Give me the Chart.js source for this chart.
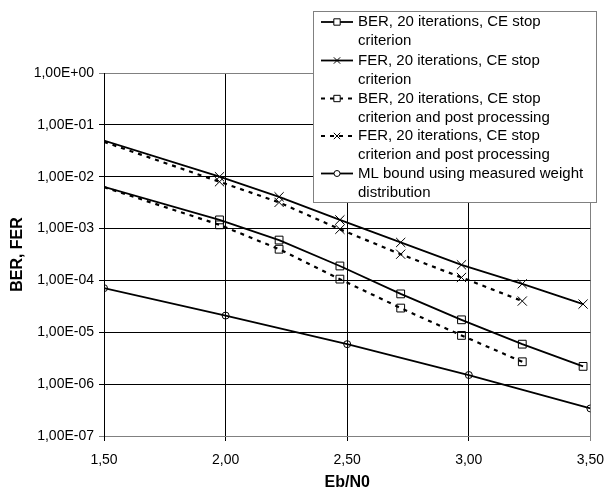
<!DOCTYPE html>
<html>
<head>
<meta charset="utf-8">
<script src="https://cdn.jsdelivr.net/npm/chart.js@4/dist/chart.umd.min.js"></script>
<style>
  html, body { margin: 0; padding: 0; background: #fff; }
  #wrap { width: 615px; height: 492px; }
</style>
</head>
<body>
<div id="wrap"><canvas id="ber_chart" width="615" height="492"></canvas></div>
<script>
// Eb/N0 positions
var xSim = [1.5, 1.975, 2.22, 2.47, 2.72, 2.97, 3.22, 3.47];
var xPost = [1.5, 1.975, 2.22, 2.47, 2.72, 2.97, 3.22];
var xBound = [1.5, 2.0, 2.5, 3.0, 3.5];

// error rates
var berCE = [6.4e-3, 1.47e-3, 6.0e-4, 1.9e-4, 5.5e-5, 1.74e-5, 5.9e-6, 2.2e-6];
var ferCE = [4.97e-2, 1.0e-2, 4.1e-3, 1.47e-3, 5.4e-4, 2.0e-4, 8.6e-5, 3.5e-5];
var berPost = [6.3e-3, 1.18e-3, 4.0e-4, 1.06e-4, 2.93e-5, 8.7e-6, 2.7e-6];
var ferPost = [4.7e-2, 8.0e-3, 3.2e-3, 9.7e-4, 3.2e-4, 1.14e-4, 4.0e-5];
var mlBound = [7.1e-5, 2.1e-5, 5.9e-6, 1.5e-6, 3.4e-7];

var seriesNames = [
  ["BER, 20 iterations, CE stop", "criterion"],
  ["FER, 20 iterations, CE stop", "criterion"],
  ["BER, 20 iterations, CE stop", "criterion and post processing"],
  ["FER, 20 iterations, CE stop", "criterion and post processing"],
  ["ML bound using measured weight", "distribution"]
];

var xTicks = [1.5, 2.0, 2.5, 3.0, 3.5];
var xTickLabels = ["1,50", "2,00", "2,50", "3,00", "3,50"];
var yTicks = [1e-7, 1e-6, 1e-5, 1e-4, 1e-3, 1e-2, 1e-1, 1];
var yTickLabels = ["1,00E-07", "1,00E-06", "1,00E-05", "1,00E-04", "1,00E-03", "1,00E-02", "1,00E-01", "1,00E+00"];

function toPoints(xs, ys) {
  var pts = [];
  for (var i = 0; i < ys.length; i++) {
    pts.push({x: xs[i], y: ys[i]});
  }
  return pts;
}

// first simulated point sits on the axis without a marker
function hideFirst(n, r) {
  var arr = [];
  for (var i = 0; i < n; i++) arr.push(i == 0 ? 0 : r);
  return arr;
}

function makeSet(name, pts, style, radius, dashed, radii) {
  return {
    label: name.join(" "),
    data: pts,
    borderColor: "#000",
    borderWidth: dashed ? 2.2 : 1.8,
    borderDash: dashed ? [4, 5] : [],
    pointStyle: style,
    pointRadius: radii,
    pointBorderWidth: 1,
    pointBorderColor: "#000",
    pointBackgroundColor: "rgba(255,255,255,0)",
    legendRadius: radius,
    tension: 0
  };
}

var legendBox = {
  id: "legendBox",
  afterDraw: function(chart) {
    var ctx = chart.ctx;
    ctx.save();
    ctx.fillStyle = "#fff";
    ctx.fillRect(313, 11, 283, 191);
    ctx.strokeStyle = "#808080";
    ctx.lineWidth = 1;
    ctx.strokeRect(313.5, 11.5, 283, 191);

    ctx.font = "15px 'Liberation Sans', Arial, sans-serif";
    ctx.textBaseline = "middle";
    ctx.textAlign = "left";

    var rowY = [22, 60.5, 98.5, 136, 173.5];
    chart.data.datasets.forEach(function(ds, i) {
      var y = rowY[i];
      ctx.strokeStyle = "#000";
      ctx.lineWidth = ds.borderWidth;
      ctx.setLineDash(ds.borderDash);
      ctx.beginPath();
      ctx.moveTo(321, y);
      ctx.lineTo(353, y);
      ctx.stroke();
      ctx.setLineDash([]);
      ctx.fillStyle = "#fff";
      ctx.lineWidth = 1;
      Chart.helpers.drawPoint(ctx, {pointStyle: ds.pointStyle, radius: ds.legendRadius, rotation: 0, borderWidth: 1}, 337, y);
      ctx.fillStyle = "#000";
      ctx.fillText(seriesNames[i][0], 358, y);
      ctx.fillText(seriesNames[i][1], 358, y + 19);
    });
    ctx.restore();
  }
};

function showChart() {
  var config = {
    type: "line",
    data: {
      datasets: [
        makeSet(seriesNames[0], toPoints(xSim, berCE), "rect", 4.5, false, hideFirst(xSim.length, 5.5)),
        makeSet(seriesNames[1], toPoints(xSim, ferCE), "crossRot", 4.5, false, hideFirst(xSim.length, 6.5)),
        makeSet(seriesNames[2], toPoints(xPost, berPost), "rect", 4.5, true, hideFirst(xPost.length, 5.5)),
        makeSet(seriesNames[3], toPoints(xPost, ferPost), "crossRot", 4.5, true, hideFirst(xPost.length, 6.5)),
        makeSet(seriesNames[4], toPoints(xBound, mlBound), "circle", 3, false, 3.5)
      ]
    },
    options: {
      responsive: false,
      animation: false,
      devicePixelRatio: 1,
      layout: { padding: { left: 0, right: 15, top: 73, bottom: 0 } },
      plugins: { legend: { display: false }, tooltip: { enabled: false } },
      scales: {
        x: {
          type: "linear",
          min: 1.5,
          max: 3.5,
          afterBuildTicks: function(scale) {
            scale.ticks = xTicks.map(function(v) { return {value: v}; });
          },
          afterFit: function(scale) { scale.height = 56; },
          ticks: {
            padding: 11,
            color: "#000",
            font: { family: "'Liberation Sans', Arial, sans-serif", size: 14 },
            maxRotation: 0,
            callback: function(v, i) { return xTickLabels[i]; }
          },
          grid: {
            color: function(c) { return c.tick && c.tick.value == 3.5 ? "#808080" : "#000"; },
            lineWidth: 1,
            tickLength: 5
          },
          border: { color: "#808080", width: 1 },
          title: {
            display: true,
            text: "Eb/N0",
            color: "#000",
            font: { family: "'Liberation Sans', Arial, sans-serif", size: 16, weight: "bold" },
            padding: { top: 0, bottom: 0 }
          }
        },
        y: {
          type: "logarithmic",
          min: 1e-7,
          max: 1,
          afterBuildTicks: function(scale) {
            scale.ticks = yTicks.map(function(v) { return {value: v}; });
          },
          afterFit: function(scale) { scale.width = 104; },
          ticks: {
            padding: 5,
            color: "#000",
            font: { family: "'Liberation Sans', Arial, sans-serif", size: 14 },
            callback: function(v, i) { return yTickLabels[i]; }
          },
          grid: {
            color: function(c) {
              if (c.tick && (c.tick.value == 1 || c.tick.value == 1e-7)) return "#808080";
              return "#000";
            },
            lineWidth: 1,
            tickLength: 5
          },
          border: { color: "#000", width: 1 },
          title: {
            display: true,
            text: "BER, FER",
            color: "#000",
            font: { family: "'Liberation Sans', Arial, sans-serif", size: 16, weight: "bold" },
            padding: { top: 8, bottom: 0 }
          }
        }
      }
    },
    plugins: [legendBox]
  };

  new Chart(document.getElementById("ber_chart").getContext("2d"), config);
}

document.addEventListener("DOMContentLoaded", showChart, false);
</script>
</body>
</html>
